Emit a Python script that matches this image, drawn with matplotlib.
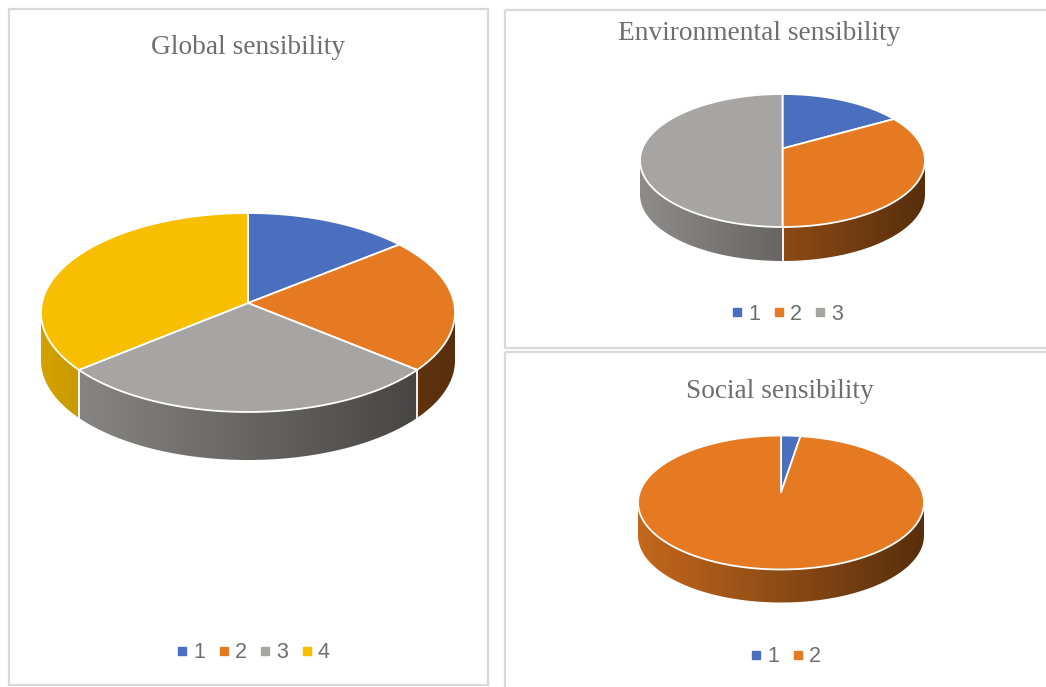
import numpy as np
import matplotlib
matplotlib.use("Agg")
import matplotlib.pyplot as plt
from matplotlib.colors import to_rgb
from matplotlib.patches import Polygon, Rectangle

# data (counts per class)
global_labels = ["1", "2", "3", "4"]
global_values = [6, 10, 14, 16]
env_labels = ["1", "2", "3"]
env_values = [2, 5, 7]
social_labels = ["1", "2"]
social_values = [1, 45]

colors = ["#4a6fbe", "#e67a22", "#a7a5a4", "#f8be00"]
text_grey = "#6e6e6e"
frame_grey = "#d9d9d9"

W, H = 1046, 687


def ellipse_pts(cx, cy, rx, ry, t0, t1, n=120):
    """
    points on the ellipse, angles in degrees clockwise from 12 o'clock
    (screen coords, y goes down)
    """
    t = np.radians(np.linspace(t0, t1, n))
    return cx + rx * np.sin(t), cy - ry * np.cos(t)


def pie3d(ax, values, cx, cy, rx, ry, depth, lift=0.12):
    """
    Excel-like 3D pie: flat top face + shaded front wall.
    """
    values = np.asarray(values, float)
    bounds = np.concatenate([[0], np.cumsum(values) / values.sum() * 360])
    f = np.linspace(0.85, 0.38, 256)  # light on the left, dark on the right
    # front walls
    for i in range(len(values)):
        a = max(bounds[i], 90)
        b = min(bounds[i + 1], 270)
        if b <= a:
            continue
        x, y = ellipse_pts(cx, cy, rx, ry, a, b)
        verts = np.vstack([np.column_stack([x, y]),
                           np.column_stack([x[::-1], y[::-1] + depth])])
        poly = Polygon(verts, closed=True, facecolor="none", edgecolor="none")
        ax.add_patch(poly)
        base = np.array(to_rgb(colors[i]))
        grad = (f[:, None] * base[None, :])[None, :, :]
        im = ax.imshow(grad, extent=(cx - rx, cx + rx, cy + ry + depth + 2, cy - ry - 2),
                       aspect="auto", interpolation="bilinear", zorder=1)
        im.set_clip_path(poly)
    # white lines between slices on the wall
    for t in bounds[:-1]:
        if 90 < t % 360 < 270:
            x, y = ellipse_pts(cx, cy, rx, ry, t, t, 1)
            ax.plot([x[0], x[0]], [y[0], y[0] + depth], color="white", lw=1.3, zorder=2)
    # top face
    apex = [cx, cy - lift * ry]
    for i in range(len(values)):
        x, y = ellipse_pts(cx, cy, rx, ry, bounds[i], bounds[i + 1])
        verts = np.vstack([apex, np.column_stack([x, y])])
        ax.add_patch(Polygon(verts, closed=True, facecolor=colors[i],
                             edgecolor="white", lw=1.3, zorder=3, joinstyle="round"))


def legend_row(ax, labels, x0, y, step=41.5):
    for i, lab in enumerate(labels):
        x = x0 + i * step
        ax.plot(x, y, marker="s", ms=6, color=colors[i], ls="none", zorder=4)
        ax.text(x + 11, y + 2, lab, ha="left", va="center", fontsize=15.5,
                color=text_grey, family="Liberation Sans")


fig = plt.figure(figsize=(W / 100, H / 100), dpi=100)
ax = fig.add_axes([0, 0, 1, 1])
ax.set_xlim(0, W)
ax.set_ylim(H, 0)
ax.axis("off")

# panel frames
for x, y, w, h in [(9, 9, 479, 676), (505, 10, 600, 338), (505, 352, 600, 400)]:
    ax.add_patch(Rectangle((x, y), w, h, fill=False, ec=frame_grey, lw=1.6, zorder=0))

title_kw = dict(ha="center", va="center", fontsize=19.7, color=text_grey,
                family="Liberation Serif")
ax.text(248, 48, "Global sensibility", **title_kw)
ax.text(759, 33, "Environmental sensibility", **title_kw)
ax.text(780, 391, "Social sensibility", **title_kw)

pie3d(ax, global_values, 248, 312.5, 207, 99.5, 48, lift=0.095)
pie3d(ax, env_values, 782.5, 160.5, 142.5, 66.5, 34, lift=0.18)
pie3d(ax, social_values, 781, 502.5, 143, 67, 33, lift=0.15)

legend_row(ax, global_labels, 182, 651)
legend_row(ax, env_labels, 737, 312)
legend_row(ax, social_labels, 756, 655)

ax.set_xlim(0, W)
ax.set_ylim(H, 0)
fig.savefig("out.png", dpi=100)
